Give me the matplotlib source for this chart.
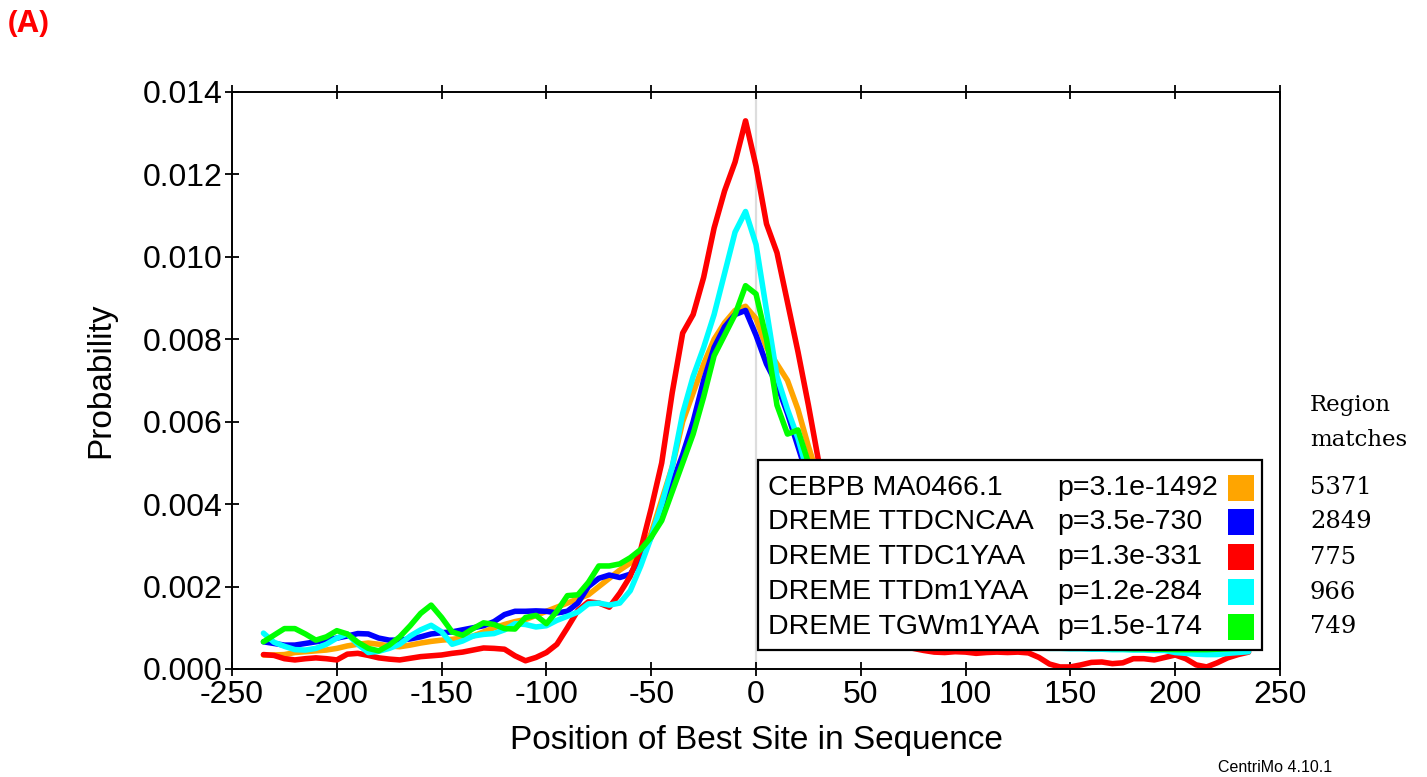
import matplotlib
matplotlib.use("Agg")
import matplotlib.pyplot as plt
import numpy as np
from matplotlib.patches import Rectangle
from matplotlib.ticker import FormatStrFormatter

plt.rcParams['font.family'] = ['Liberation Sans', 'DejaVu Sans']
plt.rcParams['axes.unicode_minus'] = False

# positions (bp from centre), step 5
pos = np.arange(-235, 240, 5)

# series values
cebpb = [0.00034, 0.00034, 0.00035, 0.00040, 0.00042, 0.00044, 0.00046, 0.00050, 0.00056, 0.00060,
         0.00063, 0.00060, 0.00056, 0.00054, 0.00058, 0.00063, 0.00067, 0.00070, 0.00072, 0.00075,
         0.00080, 0.00090, 0.00100, 0.00108, 0.00115, 0.00120, 0.00130, 0.00140, 0.00150, 0.00160,
         0.00170, 0.00180, 0.00200, 0.00220, 0.00240, 0.00257, 0.00280, 0.00330, 0.00410, 0.00490,
         0.00600, 0.00670, 0.00740, 0.00800, 0.00840, 0.00870, 0.00880, 0.00850, 0.00780, 0.00740,
         0.00700, 0.00630, 0.00540, 0.00460, 0.00380, 0.00310, 0.00250, 0.00200, 0.00170, 0.00140,
         0.00120, 0.00105, 0.00095, 0.00090, 0.00085, 0.00080, 0.00078, 0.00075, 0.00072, 0.00070,
         0.00068, 0.00066, 0.00064, 0.00062, 0.00060, 0.00058, 0.00057, 0.00056, 0.00055, 0.00054,
         0.00053, 0.00052, 0.00051, 0.00050, 0.00050, 0.00049, 0.00048, 0.00047, 0.00046, 0.00045,
         0.00045, 0.00046, 0.00048, 0.00050, 0.00052]
ttdcncaa = [0.00066, 0.00062, 0.00058, 0.00058, 0.00062, 0.00066, 0.00070, 0.00075, 0.00080, 0.00086,
            0.00085, 0.00075, 0.00070, 0.00070, 0.00073, 0.00078, 0.00085, 0.00088, 0.00090, 0.00095,
            0.00100, 0.00105, 0.00115, 0.00132, 0.00140, 0.00140, 0.00141, 0.00140, 0.00136, 0.00140,
            0.00160, 0.00200, 0.00220, 0.00228, 0.00222, 0.00230, 0.00270, 0.00320, 0.00380, 0.00450,
            0.00520, 0.00600, 0.00700, 0.00780, 0.00830, 0.00860, 0.00870, 0.00810, 0.00740, 0.00690,
            0.00620, 0.00540, 0.00460, 0.00380, 0.00310, 0.00250, 0.00200, 0.00160, 0.00130, 0.00110,
            0.00100, 0.00090, 0.00085, 0.00080, 0.00078, 0.00075, 0.00072, 0.00070, 0.00068, 0.00066,
            0.00064, 0.00062, 0.00060, 0.00058, 0.00057, 0.00056, 0.00055, 0.00054, 0.00053, 0.00052,
            0.00051, 0.00050, 0.00050, 0.00049, 0.00048, 0.00047, 0.00046, 0.00045, 0.00045, 0.00045,
            0.00044, 0.00044, 0.00045, 0.00046, 0.00047]
ttdc1yaa = [0.00035, 0.00033, 0.00025, 0.00022, 0.00025, 0.00027, 0.00025, 0.00022, 0.00036, 0.00038,
            0.00033, 0.00027, 0.00024, 0.00022, 0.00026, 0.00030, 0.00032, 0.00034, 0.00038, 0.00041,
            0.00046, 0.00051, 0.00050, 0.00048, 0.00032, 0.00020, 0.00028, 0.00040, 0.00060, 0.00100,
            0.00142, 0.00163, 0.00160, 0.00150, 0.00184, 0.00225, 0.00290, 0.00390, 0.00500, 0.00670,
            0.00815, 0.00860, 0.00950, 0.01070, 0.01160, 0.01230, 0.01330, 0.01220, 0.01080, 0.01010,
            0.00890, 0.00770, 0.00640, 0.00500, 0.00380, 0.00280, 0.00200, 0.00150, 0.00110, 0.00090,
            0.00070, 0.00060, 0.00050, 0.00045, 0.00041, 0.00040, 0.00042, 0.00041, 0.00038, 0.00040,
            0.00041, 0.00040, 0.00041, 0.00039, 0.00028, 0.00012, 0.00005, 0.00005, 0.00010, 0.00016,
            0.00017, 0.00013, 0.00015, 0.00025, 0.00025, 0.00022, 0.00028, 0.00034, 0.00025, 0.00010,
            0.00005, 0.00015, 0.00027, 0.00035, 0.00041]
ttdm1yaa = [0.00087, 0.00065, 0.00055, 0.00047, 0.00046, 0.00050, 0.00060, 0.00075, 0.00085, 0.00060,
            0.00040, 0.00043, 0.00050, 0.00060, 0.00080, 0.00095, 0.00106, 0.00090, 0.00060, 0.00068,
            0.00080, 0.00084, 0.00086, 0.00095, 0.00110, 0.00108, 0.00102, 0.00105, 0.00118, 0.00128,
            0.00138, 0.00158, 0.00160, 0.00155, 0.00160, 0.00190, 0.00250, 0.00320, 0.00400, 0.00490,
            0.00620, 0.00710, 0.00780, 0.00860, 0.00960, 0.01060, 0.01110, 0.01030, 0.00870, 0.00710,
            0.00630, 0.00560, 0.00470, 0.00390, 0.00310, 0.00250, 0.00200, 0.00160, 0.00130, 0.00110,
            0.00095, 0.00085, 0.00078, 0.00072, 0.00068, 0.00065, 0.00062, 0.00060, 0.00058, 0.00056,
            0.00055, 0.00054, 0.00053, 0.00052, 0.00051, 0.00050, 0.00050, 0.00049, 0.00049, 0.00048,
            0.00048, 0.00047, 0.00047, 0.00046, 0.00046, 0.00045, 0.00045, 0.00040, 0.00038, 0.00036,
            0.00035, 0.00035, 0.00038, 0.00040, 0.00042]
tgwm1yaa = [0.00066, 0.00082, 0.00098, 0.00098, 0.00085, 0.00070, 0.00078, 0.00093, 0.00085, 0.00065,
            0.00050, 0.00044, 0.00058, 0.00078, 0.00105, 0.00135, 0.00155, 0.00125, 0.00090, 0.00082,
            0.00098, 0.00112, 0.00108, 0.00098, 0.00097, 0.00125, 0.00130, 0.00110, 0.00140, 0.00178,
            0.00180, 0.00210, 0.00250, 0.00250, 0.00255, 0.00270, 0.00290, 0.00320, 0.00360, 0.00430,
            0.00500, 0.00570, 0.00660, 0.00760, 0.00810, 0.00860, 0.00930, 0.00910, 0.00800, 0.00640,
            0.00570, 0.00580, 0.00500, 0.00420, 0.00340, 0.00270, 0.00210, 0.00170, 0.00140, 0.00120,
            0.00105, 0.00095, 0.00088, 0.00082, 0.00078, 0.00075, 0.00072, 0.00070, 0.00068, 0.00066,
            0.00064, 0.00062, 0.00060, 0.00058, 0.00057, 0.00056, 0.00055, 0.00054, 0.00053, 0.00052,
            0.00051, 0.00050, 0.00050, 0.00049, 0.00049, 0.00048, 0.00048, 0.00047, 0.00047, 0.00047,
            0.00047, 0.00048, 0.00049, 0.00050, 0.00051]

names = ["CEBPB MA0466.1", "DREME TTDCNCAA", "DREME TTDC1YAA", "DREME TTDm1YAA", "DREME TGWm1YAA"]
pvals = ["p=3.1e-1492", "p=3.5e-730", "p=1.3e-331", "p=1.2e-284", "p=1.5e-174"]
region_matches = ["5371", "2849", "775", "966", "749"]
colors = ["#ffa500", "#0000ff", "#ff0000", "#00ffff", "#00ff00"]
series = [cebpb, ttdcncaa, ttdc1yaa, ttdm1yaa, tgwm1yaa]

fig = plt.figure(figsize=(14.27, 7.77), dpi=100)
ax = fig.add_axes([0.1626, 0.139, 0.7344, 0.7426])

ax.axvline(0, color="#dddddd", lw=1.6, zorder=1)
for ys, c in zip(series, colors):
    ax.plot(pos, ys, color=c, lw=4.0, solid_joinstyle="round", solid_capstyle="round", zorder=2)

ax.set_xlim(-250, 250)
ax.set_ylim(0, 0.014)
ax.set_xticks(np.arange(-250, 251, 50))
ax.set_yticks(np.arange(0, 0.0141, 0.002))
ax.yaxis.set_major_formatter(FormatStrFormatter("%.3f"))
ax.tick_params(axis="both", direction="inout", length=10, width=1.3, labelsize=23,
               top=True, right=False, pad=2)
ax.tick_params(axis="x", pad=3)
for s in ax.spines.values():
    s.set_linewidth(1.4)

ax.set_xlabel("Position of Best Site in Sequence", fontsize=24, labelpad=11)
ax.set_ylabel("Probability", fontsize=24, labelpad=19)

# legend drawn by hand: name, p-value, colour square
ax.add_patch(Rectangle((0.502, 0.033), 0.481, 0.329, transform=ax.transAxes,
                       facecolor="white", edgecolor="black", lw=1.6, zorder=5))
row_y = [0.3137, 0.2548, 0.1941, 0.1334, 0.0728]
for yy, nm, pv, c, rm in zip(row_y, names, pvals, colors, region_matches):
    ax.text(0.5115, yy, nm, transform=ax.transAxes, fontsize=20.5, va="center", ha="left", zorder=6)
    ax.text(0.787, yy, pv, transform=ax.transAxes, fontsize=20.5, va="center", ha="left", zorder=6)
    ax.add_patch(Rectangle((0.9504, yy - 0.0225), 0.0248, 0.045, transform=ax.transAxes,
                           facecolor=c, edgecolor="none", zorder=6))
    ax.text(1.0286, yy, rm, transform=ax.transAxes, fontsize=17.5, va="center", ha="left",
            family="DejaVu Serif", clip_on=False)

ax.text(1.0286, (669 - 405) / 577, "Region", transform=ax.transAxes, fontsize=16.5,
        va="center", ha="left", family="DejaVu Serif")
ax.text(1.0286, (669 - 440) / 577, "matches", transform=ax.transAxes, fontsize=16.5,
        va="center", ha="left", family="DejaVu Serif")

fig.text(8 / 1427, 1 - 24 / 777, "(A)", color="#ff0000", fontsize=22, fontweight="bold",
         va="center", ha="left", family=["Open Sans", "DejaVu Sans"])
fig.text(1218 / 1427, 1 - 768 / 777, "CentriMo 4.10.1", fontsize=11.5, va="center", ha="left")

fig.savefig("out.png", dpi=100)
